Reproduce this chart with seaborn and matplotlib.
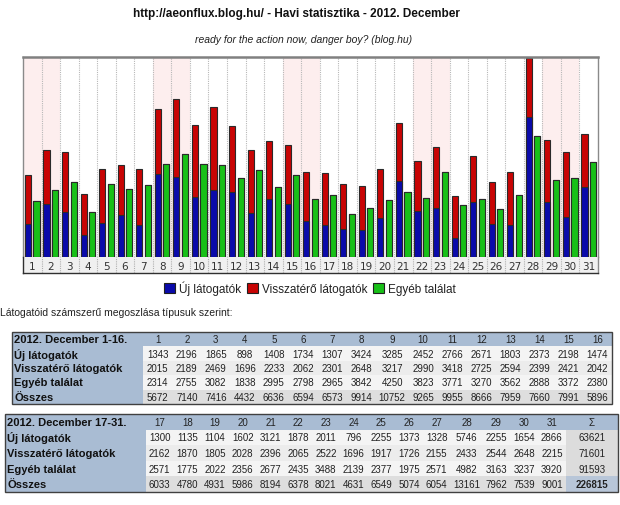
import numpy as np
import pandas as pd
import matplotlib
matplotlib.use("Agg")
import matplotlib.pyplot as plt
from matplotlib.patches import Patch, Rectangle
import seaborn as sns

# --- data -------------------------------------------------------------------
days = [str(d) for d in range(1, 32)]
weekend_days = [1, 2, 8, 9, 15, 16, 22, 23, 29, 30]

uj = [1343, 2196, 1865, 898, 1408, 1734, 1307, 3424, 3285, 2452, 2766, 2671, 1803, 2373, 2198, 1474,
      1300, 1135, 1104, 1602, 3121, 1878, 2011, 796, 2255, 1373, 1328, 5746, 2255, 1654, 2866]
visszatero = [2015, 2189, 2469, 1696, 2233, 2062, 2301, 2648, 3217, 2990, 3418, 2725, 2594, 2399, 2421, 2042,
              2162, 1870, 1805, 2028, 2396, 2065, 2522, 1696, 1917, 1726, 2155, 2433, 2544, 2648, 2215]
egyeb = [2314, 2755, 3082, 1838, 2995, 2798, 2965, 3842, 4250, 3823, 3771, 3270, 3562, 2888, 3372, 2380,
         2571, 1775, 2022, 2356, 2677, 2435, 3488, 2139, 2377, 1975, 2571, 4982, 3163, 3237, 3920]
osszes = [5672, 7140, 7416, 4432, 6636, 6594, 6573, 9914, 10752, 9265, 9955, 8666, 7959, 7660, 7991, 5896,
          6033, 4780, 4931, 5986, 8194, 6378, 8021, 4631, 6549, 5074, 6054, 13161, 7962, 7539, 9001]
sum_labels = ["63621", "71601", "91593", "226815"]

row_labels = ["Új látogatók", "Visszatérő látogatók", "Egyéb találat", "Összes"]
legend_labels = ["Új látogatók", "Visszatérő látogatók", "Egyéb találat"]

BLUE = "#0a0aaa"
RED = "#c80404"
GREEN = "#18c018"
PINK = "#fdeeee"
HEAD = "#a9bcd3"

sns.set_theme(style="white")
plt.rcParams["font.family"] = ["Liberation Sans", "DejaVu Sans"]

fig = plt.figure(figsize=(6.2, 5.06), dpi=100)


def fbox(x0, y0, x1, y1):
    """pixel box (top-left origin) -> figure rect"""
    return [x0 / 620, 1 - y1 / 506, (x1 - x0) / 620, (y1 - y0) / 506]


# --- titles -----------------------------------------------------------------
fig.text(296 / 620, 1 - 14 / 506, "http://aeonflux.blog.hu/ - Havi statisztika - 2012. December",
         ha="center", va="center", fontsize=8.5, fontweight="bold", color="#111111")
fig.text(304 / 620, 1 - 40 / 506, "ready for the action now, danger boy? (blog.hu)",
         ha="center", va="center", fontsize=7.5, style="italic", color="#222222")

# --- main bar chart ---------------------------------------------------------
ax = fig.add_axes(fbox(23, 58, 598, 258))

stack_top = pd.DataFrame({
    "nap": days * 2,
    "tipus": ["latogato"] * 31 + ["egyeb"] * 31,
    "ertek": [u + v for u, v in zip(uj, visszatero)] + egyeb,
})
stack_low = pd.DataFrame({
    "nap": days * 2,
    "tipus": ["latogato"] * 31 + ["egyeb"] * 31,
    "ertek": uj + egyeb,
})

for d in weekend_days:
    ax.axvspan(d - 1.5, d - 0.5, color=PINK, zorder=0, lw=0)
for i in range(30):
    ax.axvline(i + 0.5, color="#b8b8b8", lw=0.8, ls=(0, (1, 1)), zorder=0.5)

bar_kw = dict(x="nap", y="ertek", hue="tipus", order=days, hue_order=["latogato", "egyeb"],
              width=0.92, gap=0.28, edgecolor="#2a2a2a", linewidth=0.8, errorbar=None,
              saturation=1, legend=False, ax=ax)
sns.barplot(data=stack_top, palette=[RED, GREEN], **bar_kw)
sns.barplot(data=stack_low, palette=[BLUE, GREEN], **bar_kw)

ax.set_xlim(-0.5, 30.5)
ax.set_ylim(0, 8230)
ax.set_xlabel("")
ax.set_ylabel("")
ax.set_xticks([])
ax.set_yticks([])
ax.spines["bottom"].set_visible(False)
ax.spines["top"].set_color("#808080")
ax.spines["top"].set_linewidth(1.8)
for s in ("left", "right"):
    ax.spines[s].set_color("#8a8a8a")
    ax.spines[s].set_linewidth(1.0)

# day label strip
axs = fig.add_axes(fbox(23, 258, 598, 274))
axs.set_facecolor("#f0f0f0")
axs.set_xlim(-0.5, 30.5)
axs.set_ylim(0, 1)
for i in range(30):
    axs.axvline(i + 0.5, color="#b0b0b0", lw=0.8, ls=(0, (1, 1)))
for i, d in enumerate(days):
    axs.text(i, 0.45, d, ha="center", va="center", fontsize=7.5, color="#333333",
             family=["DejaVu Sans"])
axs.set_xticks([])
axs.set_yticks([])
axs.spines["top"].set_visible(False)
axs.spines["bottom"].set_color("#303030")
axs.spines["left"].set_color("#303030")
axs.spines["right"].set_color("#8a8a8a")
for s in axs.spines.values():
    s.set_linewidth(1.0)

# legend
handles = [Patch(facecolor=c, edgecolor="#202020", lw=0.8) for c in (BLUE, RED, GREEN)]
fig.legend(handles, legend_labels, loc="center", bbox_to_anchor=(310 / 620, 1 - 289 / 506),
           ncol=3, frameon=False, handlelength=0.9, handleheight=0.9, handletextpad=0.35,
           columnspacing=0.5, fontsize=8.5, labelcolor="#222222")

fig.text(0 / 620, 1 - 313 / 506, "Látogatóid számszerű megoszlása típusuk szerint:",
         ha="left", va="center", fontsize=7.5, color="#222222")


# --- tables -----------------------------------------------------------------
def draw_table(rect, header, cols, widths, sum_col=False):
    tax = fig.add_axes(rect)
    tax.axis("off")
    n_rows = 5
    row_fill = ["#f4f4f4", "#ececec", "#f4f4f4", "#dedede"]
    cells = [[header] + [c[0] for c in cols]]
    for r in range(4):
        cells.append([row_labels[r]] + [c[r + 1] for c in cols])
    total_w = sum(widths)
    xs = np.cumsum([0] + widths) / total_w
    h = 1 / n_rows
    for r in range(n_rows):
        y0 = 1 - (r + 1) * h
        for c in range(len(widths)):
            if r == 0 or c == 0:
                fc = HEAD
            elif sum_col and c == len(widths) - 1:
                fc = "#b8c6d8" if r == 4 else "#dcdcdc"
            else:
                fc = row_fill[r - 1]
            tax.add_patch(Rectangle((xs[c], y0), xs[c + 1] - xs[c], h, facecolor=fc,
                                    edgecolor="none", transform=tax.transAxes))
            txt = cells[r][c]
            if c == 0:
                tax.text(xs[c] + 0.004, y0 + h / 2, txt, ha="left", va="center",
                         fontsize=8, fontweight="bold", color="#111111", transform=tax.transAxes)
            else:
                bold = sum_col and r == 4 and c == len(widths) - 1
                tax.text((xs[c] + xs[c + 1]) / 2, y0 + h / 2, txt, ha="center", va="center",
                         fontsize=7, color="#222222", fontweight="bold" if bold else "normal",
                         transform=tax.transAxes)
    tax.add_patch(Rectangle((0, 0), 1, 1, facecolor="none", edgecolor="#404040", lw=1.0,
                            transform=tax.transAxes, clip_on=False))


cols1 = [[days[i], str(uj[i]), str(visszatero[i]), str(egyeb[i]), str(osszes[i])] for i in range(16)]
w1 = [131] + [29] * 16
w1[9] = 33
draw_table(fbox(12, 333, 612, 405), "2012. December 1-16.", cols1, w1)

cols2 = [[days[i], str(uj[i]), str(visszatero[i]), str(egyeb[i]), str(osszes[i])] for i in range(16, 31)]
cols2.append(["Σ"] + sum_labels)
w2 = [140] + [27.5] * 15 + [52]
w2[12] = 32
draw_table(fbox(5, 415, 618, 493), "2012. December 17-31.", cols2, w2, sum_col=True)

fig.savefig("out.png", dpi=100)
